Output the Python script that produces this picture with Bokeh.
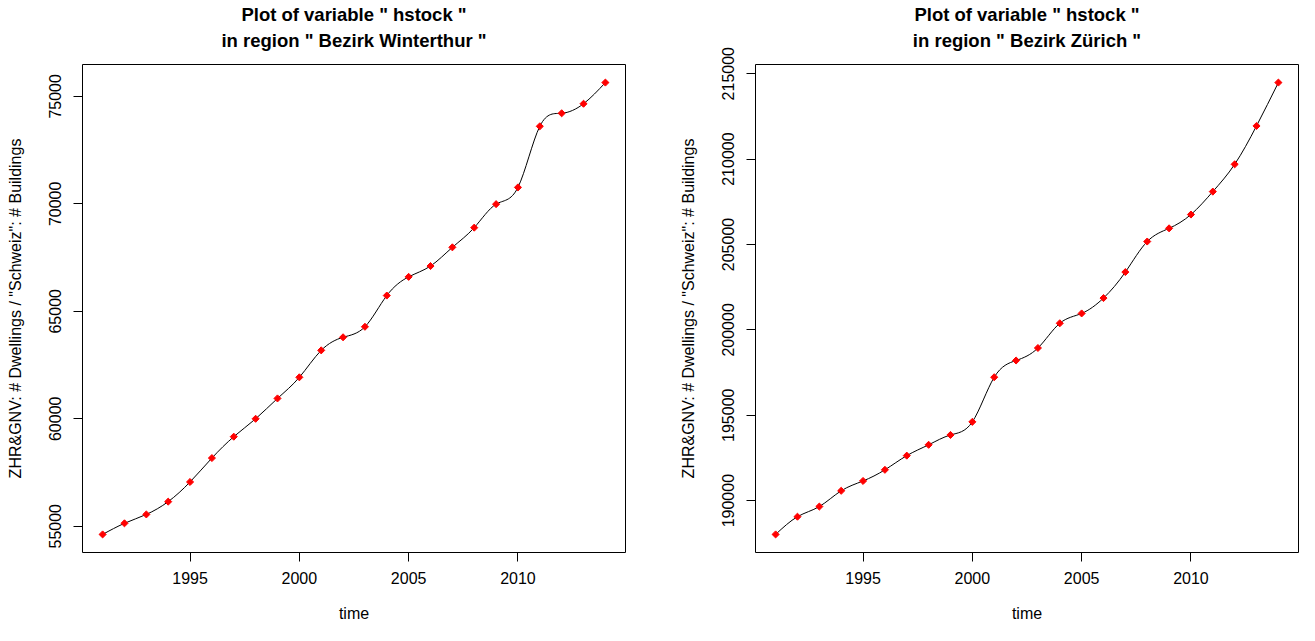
import numpy as np
from bokeh.plotting import figure
from bokeh.models import Range1d, FixedTicker, Title, ColumnDataSource, BasicTickFormatter
from bokeh.layouts import row
from bokeh.embed import file_html
from bokeh.resources import INLINE

# ---------------- data ----------------
years = list(range(1991, 2015))
hstock_winterthur = [54620, 55137, 55550, 56145, 57060, 58173, 59167, 60000,
                     60947, 61929, 63183, 63791, 64280, 65733, 66603, 67106,
                     67976, 68892, 69985, 70765, 73606, 74212, 74656, 75641]
hstock_zuerich = [188022, 189060, 189654, 190577, 191153, 191805, 192636, 193270,
                  193847, 194614, 197227, 198207, 198939, 200386, 200963, 201863,
                  203385, 205173, 205946, 206753, 208096, 209694, 211943, 214481]
x_ticks = [1995, 2000, 2005, 2010]
y_ticks_winterthur = [55000, 60000, 65000, 70000, 75000]
y_ticks_zuerich = [190000, 195000, 200000, 205000, 210000, 215000]
regions = ["Bezirk Winterthur", "Bezirk Zürich"]
variable = "hstock"
y_label = 'ZHR&GNV: # Dwellings / "Schweiz": # Buildings'
x_label = "time"

FONT = "Liberation Sans"


def spline_bezier(x, y):
    """Natural cubic spline through the points, expressed as cubic Bezier segments."""
    x = np.asarray(x, float)
    y = np.asarray(y, float)
    n = len(x)
    h = np.diff(x)
    A = np.zeros((n, n))
    r = np.zeros(n)
    A[0, 0] = 1.0
    A[-1, -1] = 1.0
    for i in range(1, n - 1):
        A[i, i - 1] = h[i - 1]
        A[i, i] = 2 * (h[i - 1] + h[i])
        A[i, i + 1] = h[i]
        r[i] = 6 * ((y[i + 1] - y[i]) / h[i] - (y[i] - y[i - 1]) / h[i - 1])
    M = np.linalg.solve(A, r)
    d = np.empty(n)
    d[:-1] = (y[1:] - y[:-1]) / h - h * (2 * M[:-1] + M[1:]) / 6
    d[-1] = (y[-1] - y[-2]) / h[-1] + h[-1] * (M[-2] + 2 * M[-1]) / 6
    return dict(x0=x[:-1], y0=y[:-1], x1=x[1:], y1=y[1:],
                cx0=x[:-1] + h / 3, cy0=y[:-1] + d[:-1] * h / 3,
                cx1=x[1:] - h / 3, cy1=y[1:] - d[1:] * h / 3)


def make_panel(region, values, yticks, border_right):
    lo, hi = min(values), max(values)
    pad = 0.04 * (hi - lo)
    xpad = 0.04 * (max(years) - min(years))
    p = figure(frame_width=543, frame_height=488,
               x_range=Range1d(min(years) - xpad, max(years) + xpad),
               y_range=Range1d(lo - pad, hi + pad),
               output_backend="svg", toolbar_location=None,
               min_border_left=82, min_border_right=border_right,
               min_border_top=64, min_border_bottom=0)
    p.grid.visible = False
    p.outline_line_color = "black"
    p.outline_line_width = 1
    p.background_fill_color = "white"
    p.border_fill_color = "white"

    line2 = Title(text='in region " %s "' % region, align="center",
                  text_font=FONT, text_font_size="18.5px", text_font_style="bold",
                  text_color="black", standoff=28)
    line1 = Title(text='Plot of variable " %s "' % variable, align="center",
                  text_font=FONT, text_font_size="18.5px", text_font_style="bold",
                  text_color="black", standoff=-22)
    p.add_layout(line2, "above")
    p.add_layout(line1, "above")

    src = ColumnDataSource(spline_bezier(years, values))
    p.bezier(x0="x0", y0="y0", x1="x1", y1="y1", cx0="cx0", cy0="cy0",
             cx1="cx1", cy1="cy1", source=src, line_color="black", line_width=1)
    p.scatter(years, values, marker="square", angle=np.pi / 4, size=5,
              color="red")

    for ax, ticks in ((p.xaxis[0], x_ticks), (p.yaxis[0], yticks)):
        ax.ticker = FixedTicker(ticks=ticks)
        ax.formatter = BasicTickFormatter(use_scientific=False)
        ax.bounds = (ticks[0], ticks[-1])
        ax.axis_line_color = "black"
        ax.major_tick_line_color = "black"
        ax.major_tick_out = 9
        ax.major_tick_in = 0
        ax.minor_tick_line_color = None
        ax.major_label_text_font = FONT
        ax.major_label_text_font_size = "16px"
        ax.major_label_text_color = "black"
        ax.axis_label_text_font = FONT
        ax.axis_label_text_font_size = "16px"
        ax.axis_label_text_font_style = "normal"
        ax.axis_label_text_color = "black"
    p.yaxis[0].major_label_orientation = "vertical"
    p.xaxis[0].axis_label = x_label
    p.yaxis[0].axis_label = y_label
    p.xaxis[0].major_label_standoff = 10
    p.yaxis[0].major_label_standoff = 12
    p.xaxis[0].axis_label_standoff = 18
    p.yaxis[0].axis_label_standoff = 23
    return p


p1 = make_panel(regions[0], hstock_winterthur, y_ticks_winterthur, 48)
p2 = make_panel(regions[1], hstock_zuerich, y_ticks_zuerich, 1)
layout = row(p1, p2)

open("out.html", "w").write(file_html(layout, INLINE))
